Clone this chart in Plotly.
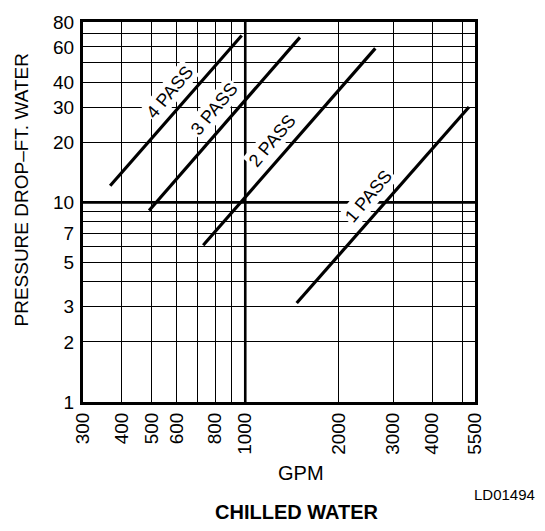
import math
import plotly.graph_objects as go

# Chilled-water pressure drop vs flow, one straight log-log line per pass arrangement
passes = ["4 PASS", "3 PASS", "2 PASS", "1 PASS"]
gpm_start = [367, 490, 732, 1465]
gpm_end = [974, 1500, 2625, 5260]
drop_start = [12.1, 9.1, 6.1, 3.13]
drop_end = [68.5, 67.0, 59.0, 30.0]

# Where each pass label sits (GPM, ft. water)
label_gpm = [572, 793, 1217, 2504]
label_drop = [35.6, 29.5, 20.4, 10.7]

x_grid = [300, 400, 500, 600, 700, 800, 900, 1000, 2000, 3000, 4000, 5000, 5500]
x_text = ["300", "400", "500", "600", "", "800", "", "1000", "2000", "3000", "4000", "", "5500"]
y_grid = [1, 2, 3, 4, 5, 6, 7, 8, 9, 10, 20, 30, 40, 50, 60, 70, 80]
y_text = ["1", "2", "3", "", "5", "", "7", "", "", "10", "20", "30", "40", "", "60", "", "80"]

FONT = "Liberation Sans, Arial, Helvetica, sans-serif"

fig = go.Figure()
for name, x0, x1, y0, y1 in zip(passes, gpm_start, gpm_end, drop_start, drop_end):
    fig.add_trace(go.Scatter(x=[x0, x1], y=[y0, y1], mode="lines", name=name,
                             line=dict(color="black", width=3.2), showlegend=False,
                             hoverinfo="skip"))

# annotations on log axes take log10 coordinates
for name, lx, ly in zip(passes, label_gpm, label_drop):
    fig.add_annotation(x=math.log10(lx), y=math.log10(ly), xref="x", yref="y", text=name,
                       showarrow=False, textangle=-50, bgcolor="white", borderpad=1,
                       xanchor="center", yanchor="middle",
                       font=dict(family=FONT, size=18, color="black"))

# heavier reference lines at 1000 GPM and 10 ft
fig.add_shape(type="line", xref="x", yref="paper", x0=1000, x1=1000, y0=0, y1=1,
              line=dict(color="black", width=2.6), layer="below")
fig.add_shape(type="line", xref="paper", yref="y", x0=0, x1=1, y0=10, y1=10,
              line=dict(color="black", width=2.6), layer="below")

axis_common = dict(showline=True, linecolor="black", linewidth=3, mirror=True,
                   showgrid=True, gridcolor="black", gridwidth=1.4, ticks="",
                   zeroline=False, tickfont=dict(family=FONT, size=19, color="black"))

fig.update_xaxes(type="log", range=[2.4771, 3.7404], tickmode="array",
                 tickvals=x_grid, ticktext=x_text, tickangle=-90, **axis_common)
fig.update_yaxes(type="log", range=[0, 1.9031], tickmode="array",
                 tickvals=y_grid, ticktext=y_text, ticklabelstandoff=2, **axis_common)

def paper_text(x, y, text, size, angle=0):
    fig.add_annotation(xref="paper", yref="paper", x=x, y=y, text=text, textangle=angle,
                       showarrow=False, xanchor="center", yanchor="middle",
                       font=dict(family=FONT, size=size, color="black"))

paper_text(-0.158, 0.5567, "PRESSURE DROP–FT. WATER", 19, angle=-90)
paper_text(0.5554, -0.1856, "GPM", 20)
paper_text(0.546, -0.2887, "<b>CHILLED WATER</b>", 20)
paper_text(1.0765, -0.2423, "LD01494", 15)

fig.update_layout(width=545, height=531, margin=dict(l=83, r=70, t=14, b=129),
                  plot_bgcolor="white", paper_bgcolor="white", showlegend=False)

fig.write_html("out.html")
